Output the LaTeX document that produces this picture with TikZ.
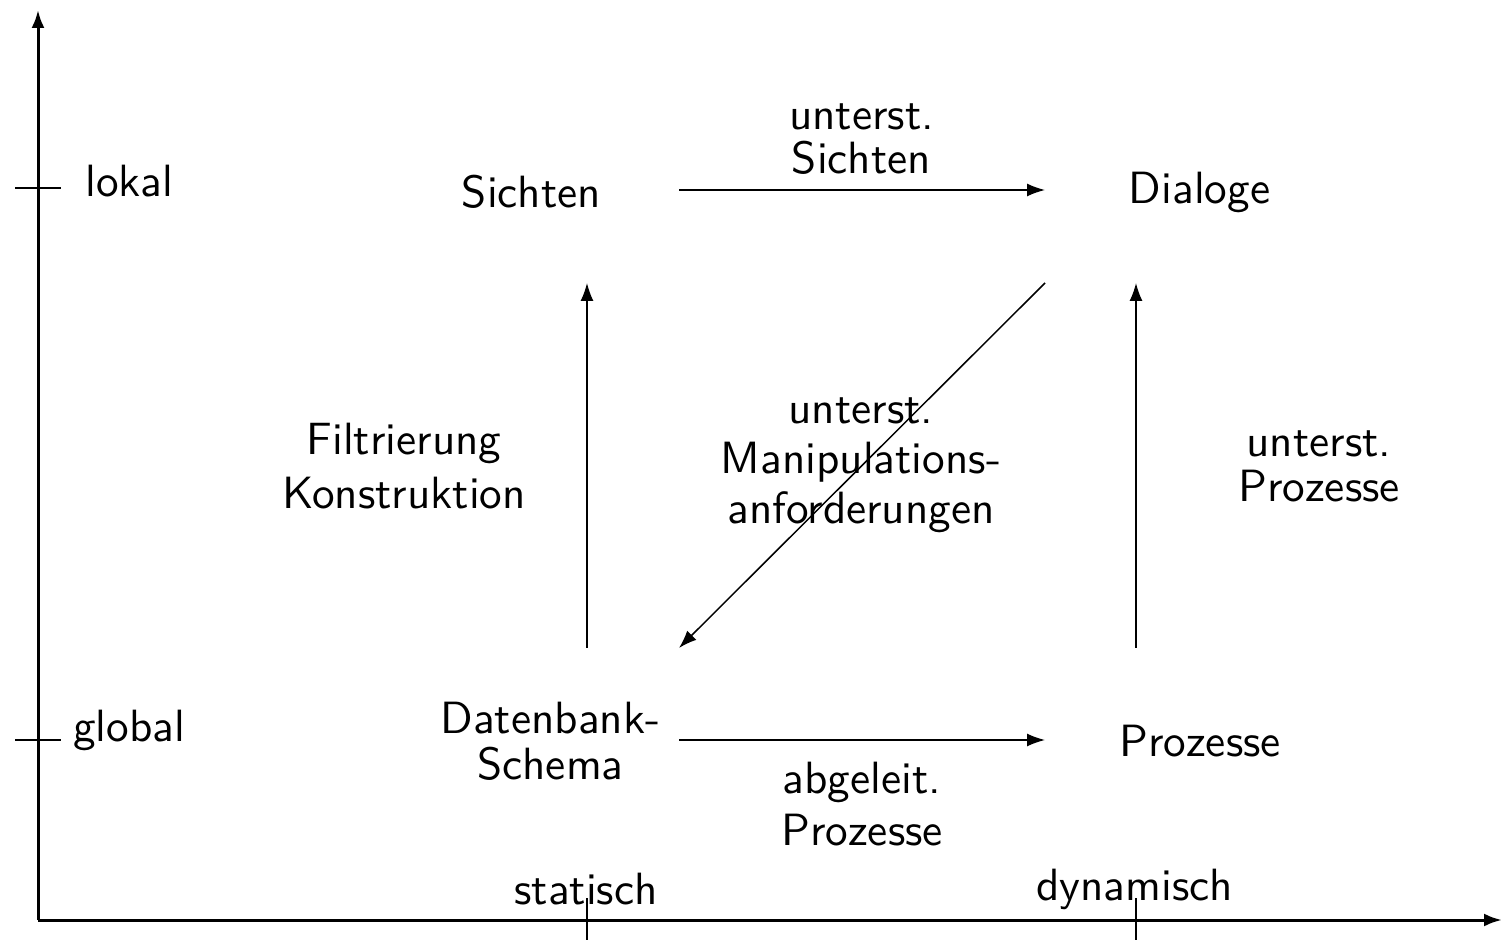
\documentclass[tikz,border=0pt]{standalone}
\usepackage{fontspec}
\newfontfamily\lmsten{lmsans10-regular.otf}
\usetikzlibrary{arrows.meta}
\newcommand{\lblfont}[1]{\lmsten\fontsize{22.6}{#1}\selectfont}
\begin{document}
\begin{tikzpicture}[x=0.5pt,y=-0.5pt,
  lbl/.style={inner sep=0pt, anchor=base, font=\lblfont{22.6pt}},
  ml/.style={lbl, align=center},
  conn/.style={line width=0.75pt, -{Latex[length=9pt,width=6.5pt]}},
  axis/.style={line width=1.5pt, -{Latex[length=9pt,width=6.5pt]}},
  tick/.style={line width=0.6pt}]
\useasboundingbox (0,0) rectangle (1510,940);
% axes
\coordinate (O) at (38,920);
\coordinate (ytop) at (38,10);
\coordinate (xend) at (1502,920);
\draw[axis] (O) -- (ytop);
\draw[axis] (O) -- (xend);
% ticks
\coordinate (t1a) at (15,188); \coordinate (t1b) at (61,188);
\coordinate (t2a) at (15,740); \coordinate (t2b) at (61,740);
\coordinate (t3a) at (587,898); \coordinate (t3b) at (587,942);
\coordinate (t4a) at (1136,898); \coordinate (t4b) at (1136,942);
\draw[tick] (t1a) -- (t1b);
\draw[tick] (t2a) -- (t2b);
\draw[tick] (t3a) -- (t3b);
\draw[tick] (t4a) -- (t4b);
% axis labels
\node[lbl] (lokal) at (129.5,197) {lokal};
\node[lbl] (global) at (129,741) {global};
\node[lbl] (statisch) at (586,904) {statisch};
\node[lbl] (dynamisch) at (1134.5,900) {dynamisch};
% main nodes
\node[lbl] (sichten) at (531.5,208) {Sichten};
\node[lbl] (dialoge) at (1199.5,204) {Dialoge};
\node[ml, font=\lblfont{23pt}] (schema) at (550.5,779) {Datenbank-\\Schema};
\node[lbl] (prozesse) at (1200,756) {Prozesse};
% edge labels
\node[ml, font=\lblfont{22pt}] (l1) at (861.5,174) {unterst.\\Sichten};
\node[ml, font=\lblfont{27pt}] (l2) at (404,509) {Filtrierung\\Konstruktion};
\node[ml, font=\lblfont{25pt}] (l3) at (861,524) {unterst.\\Manipulations-\\anforderungen};
\node[ml, font=\lblfont{22.5pt}] (l4) at (1319,502) {unterst.\\Prozesse};
\node[ml, font=\lblfont{26pt}] (l5) at (862,845) {abgeleit.\\Prozesse};
% connector end points
\coordinate (sE) at (679,190);
\coordinate (dW) at (1045,190);
\coordinate (bE) at (679,740);
\coordinate (pW) at (1045,740);
\coordinate (bN) at (587,648);
\coordinate (sS) at (587,283);
\coordinate (pN) at (1136,648);
\coordinate (dS) at (1136,283);
\coordinate (dSW) at (1045,283);
\coordinate (bNE) at (679,648);
\draw[conn] (sE) -- (dW);
\draw[conn] (bE) -- (pW);
\draw[conn] (bN) -- (sS);
\draw[conn] (pN) -- (dS);
\draw[conn] (dSW) -- (bNE);
\end{tikzpicture}
\end{document}
